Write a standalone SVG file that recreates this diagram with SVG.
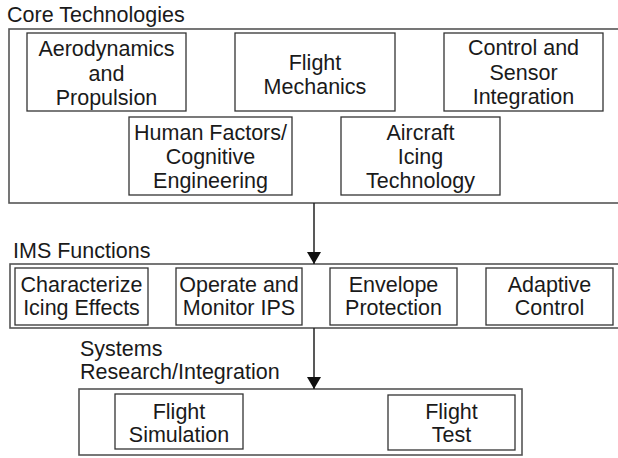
<svg xmlns="http://www.w3.org/2000/svg" width="618" height="458" viewBox="0 0 618 458">
<style>
text{font-family:"Liberation Sans",Arial,sans-serif;font-size:21.5px;fill:#1a1a1a}
.c{text-anchor:middle}
.outer{fill:none;stroke:#555;stroke-width:1.6}
.inner{fill:#fff;stroke:#333;stroke-width:1.3}
.conn{stroke:#222;stroke-width:1.5;fill:none}
</style>
<defs>
<marker id="ah" markerWidth="12" markerHeight="14" refX="12" refY="7" orient="auto" markerUnits="userSpaceOnUse" viewBox="0 0 12 14">
<path d="M0,0 L12,7 L0,14 Z" fill="#111"/>
</marker>
</defs>
<rect width="618" height="458" fill="#fff"/>

<g id="core">
<text x="7" y="22">Core Technologies</text>
<rect class="outer" x="9" y="29" width="620" height="174"/>
</g>
<g id="aero"><rect class="inner" x="27" y="33" width="159" height="78"/>
<text class="c" x="106.5" y="56">Aerodynamics</text><text class="c" x="106.5" y="81">and</text><text class="c" x="106.5" y="105">Propulsion</text></g>
<g id="flightmech"><rect class="inner" x="235" y="33" width="160" height="78"/>
<text class="c" x="315" y="70">Flight</text><text class="c" x="315" y="94">Mechanics</text></g>
<g id="control"><rect class="inner" x="444" y="33" width="159" height="78"/>
<text class="c" x="523.5" y="55">Control and</text><text class="c" x="523.5" y="80">Sensor</text><text class="c" x="523.5" y="104">Integration</text></g>
<g id="human"><rect class="inner" x="129" y="117" width="163" height="78"/>
<text class="c" x="210.5" y="140">Human Factors/</text><text class="c" x="210.5" y="164">Cognitive</text><text class="c" x="210.5" y="188">Engineering</text></g>
<g id="icing"><rect class="inner" x="341" y="117" width="159" height="78"/>
<text class="c" x="420.5" y="140">Aircraft</text><text class="c" x="420.5" y="164">Icing</text><text class="c" x="420.5" y="188">Technology</text></g>

<g id="ims">
<text x="13" y="258">IMS Functions</text>
<rect class="outer" x="10" y="264" width="620" height="64"/>
</g>
<g id="characterize"><rect class="inner" x="15" y="268" width="133" height="57"/>
<text class="c" x="81.5" y="292">Characterize</text><text class="c" x="81.5" y="315">Icing Effects</text></g>
<g id="operate"><rect class="inner" x="176" y="268" width="126" height="57"/>
<text class="c" x="239" y="292">Operate and</text><text class="c" x="239" y="315">Monitor IPS</text></g>
<g id="envelope"><rect class="inner" x="330" y="268" width="127" height="57"/>
<text class="c" x="393.5" y="292">Envelope</text><text class="c" x="393.5" y="315">Protection</text></g>
<g id="adaptive"><rect class="inner" x="486" y="268" width="127" height="57"/>
<text class="c" x="549.5" y="292">Adaptive</text><text class="c" x="549.5" y="315">Control</text></g>

<g id="systems">
<text x="80" y="356">Systems</text>
<text x="80" y="379">Research/Integration</text>
<rect class="outer" x="79" y="389" width="443" height="66"/>
</g>
<g id="flightsim"><rect class="inner" x="115" y="394" width="128" height="55"/>
<text class="c" x="179" y="419">Flight</text><text class="c" x="179" y="442">Simulation</text></g>
<g id="flighttest"><rect class="inner" x="388" y="395" width="127" height="55"/>
<text class="c" x="451.5" y="419">Flight</text><text class="c" x="451.5" y="442">Test</text></g>

<g id="connectors">
<line class="conn" x1="314" y1="203" x2="314" y2="264" marker-end="url(#ah)"/>
<line class="conn" x1="314" y1="328" x2="314" y2="389" marker-end="url(#ah)"/>
</g>
</svg>
